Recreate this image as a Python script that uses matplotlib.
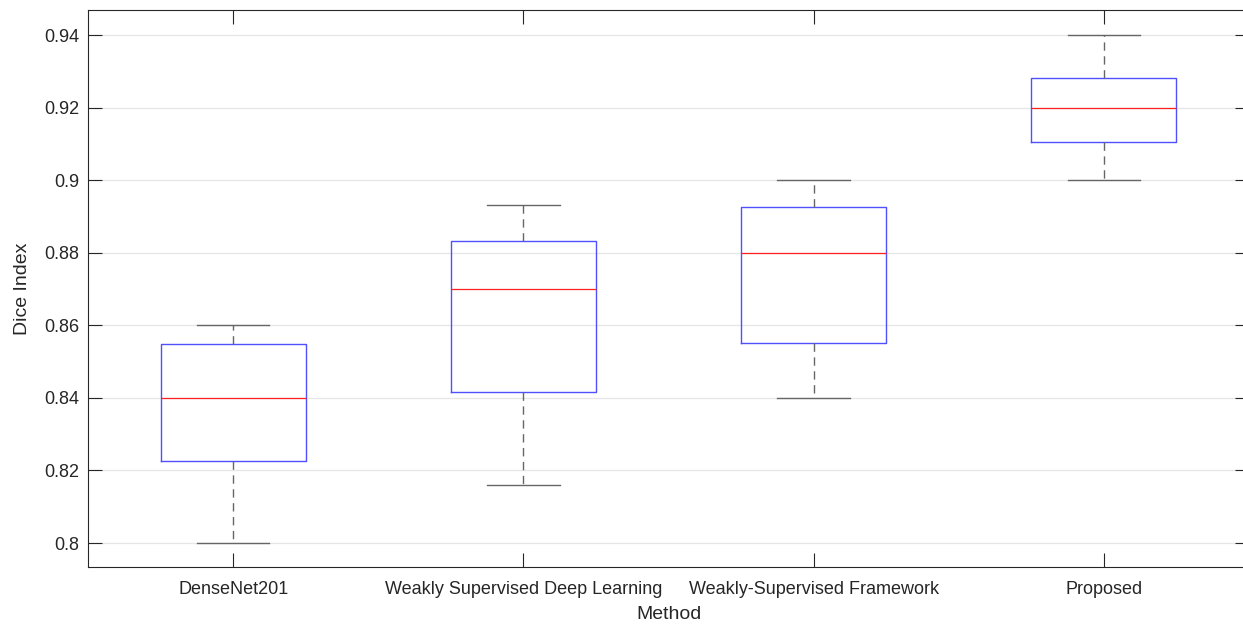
import matplotlib
matplotlib.use('Agg')
import matplotlib.pyplot as plt

plt.rcParams['font.family'] = ['Liberation Sans', 'DejaVu Sans']

methods = ['DenseNet201', 'Weakly Supervised Deep Learning',
           'Weakly-Supervised Framework', 'Proposed']
whislo = [0.800, 0.816, 0.840, 0.900]
q1 = [0.8226, 0.8416, 0.8551, 0.9105]
med = [0.840, 0.870, 0.880, 0.920]
q3 = [0.8549, 0.8832, 0.8926, 0.9282]
whishi = [0.860, 0.8932, 0.900, 0.940]

stats = []
for i in range(len(methods)):
    stats.append({'label': methods[i], 'whislo': whislo[i], 'q1': q1[i],
                  'med': med[i], 'q3': q3[i], 'whishi': whishi[i], 'fliers': []})

fig = plt.figure(figsize=(12.43, 6.24), dpi=100)
ax = fig.add_axes([88/1243, 57/624, 1161/1243, 557/624])

ax.bxp(stats, widths=0.5, showfliers=False,
       boxprops=dict(color='#5050ff', linewidth=1.0),
       medianprops=dict(color='#ff2020', linewidth=0.9),
       whiskerprops=dict(color='#666666', linewidth=1.0, linestyle=(0, (6, 4))),
       capprops=dict(color='#666666', linewidth=1.0),
       capwidths=0.25)

ax.set_xlim(0.5, 4.5)
ax.set_ylim(0.7934, 0.9469)
ax.set_yticks([0.8, 0.82, 0.84, 0.86, 0.88, 0.9, 0.92, 0.94])
ax.set_yticklabels(['0.8', '0.82', '0.84', '0.86', '0.88', '0.9', '0.92', '0.94'])
ax.yaxis.grid(True, color='#e6e6e6', linewidth=0.9)
ax.set_axisbelow(True)

ax.tick_params(direction='in', length=10, width=0.8, color='#262626',
               labelcolor='#262626', labelsize=13, top=True, right=True)
ax.tick_params(axis='x', pad=10)
ax.tick_params(axis='y', pad=6)
for sp in ax.spines.values():
    sp.set_color('#262626')
    sp.set_linewidth(0.8)

ax.set_xlabel('Method', fontsize=14, color='#262626', labelpad=6)
ax.set_ylabel('Dice Index', fontsize=14, color='#262626', labelpad=10)

fig.savefig('out.png', dpi=100)
